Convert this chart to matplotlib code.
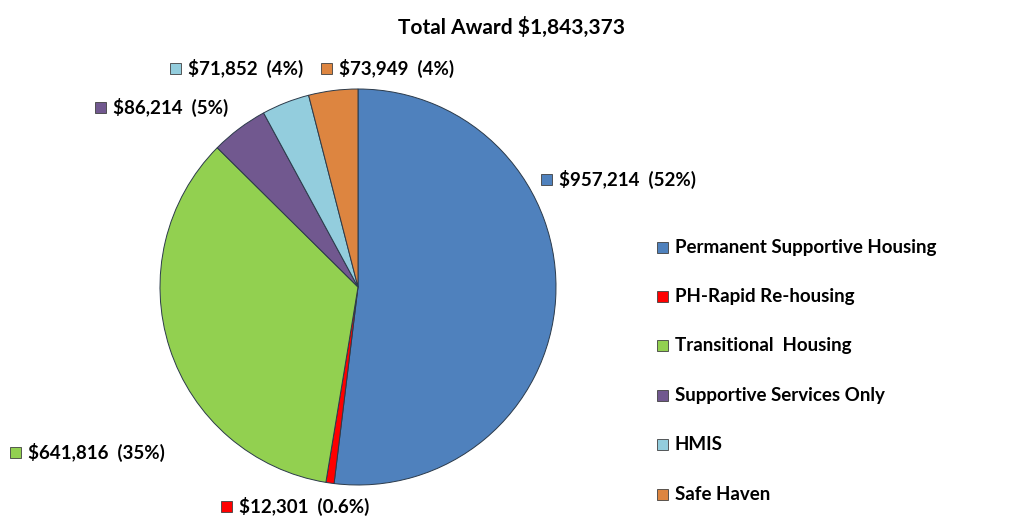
import matplotlib.pyplot as plt
from matplotlib.patches import Rectangle

# data
categories = ["Permanent Supportive Housing", "PH-Rapid Re-housing", "Transitional  Housing",
              "Supportive Services Only", "HMIS", "Safe Haven"]
amounts = [957214, 12301, 641816, 86214, 71852, 73949]
pct_labels = ["52%", "0.6%", "35%", "5%", "4%", "4%"]
colors = ["#4F81BD", "#FF0000", "#92D050", "#71588F", "#93CDDD", "#DD8540"]
title = "Total Award $1,843,373"

W, H = 1024, 532
fig = plt.figure(figsize=(W / 100, H / 100), dpi=100)
ax = fig.add_axes([0, 0, 1, 1])

font = ["Lato", "DejaVu Sans"]

ax.pie(amounts, colors=colors, startangle=90, counterclock=False,
       center=(358, H - 287), radius=198,
       wedgeprops=dict(edgecolor="#2b3a4a", linewidth=0.7))

# pie() changes the limits, so set the pixel frame afterwards
ax.set_xlim(0, W)
ax.set_ylim(0, H)
ax.set_aspect("equal")
ax.axis("off")

ax.text(512, H - 27, title, ha="center", va="center", fontsize=15,
        fontweight="bold", family=font)

# data label positions (left edge of marker square, pixel y)
label_pos = [(541, 179), (221, 506), (10, 452), (95, 107), (170, 68), (321, 68)]
sq = 11
for (x, y), amt, p, c in zip(label_pos, amounts, pct_labels, colors):
    ax.add_patch(Rectangle((x, H - y - sq / 2), sq, sq, facecolor=c,
                           edgecolor="#404040", linewidth=0.6))
    ax.text(x + sq + 7, H - y, f"${amt:,}  ({p})", ha="left", va="center",
            fontsize=13.5, fontweight="bold", family=font)

# legend
for i, (name, c) in enumerate(zip(categories, colors)):
    y = 247 + i * 49.4
    ax.add_patch(Rectangle((657, H - y - sq / 2), sq, sq, facecolor=c,
                           edgecolor="#404040", linewidth=0.6))
    ax.text(675, H - y, name, ha="left", va="center",
            fontsize=13.5, fontweight="bold", family=font)

fig.savefig("out.png", dpi=100)
